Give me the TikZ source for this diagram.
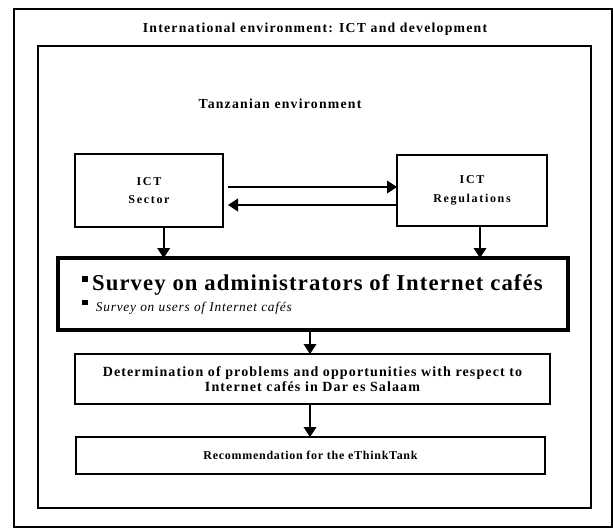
\documentclass[tikz,border=0pt]{standalone}
\usepackage{fontspec}
\setmainfont{Liberation Serif}
\usetikzlibrary{arrows.meta,calc}

\tikzset{
  box/.style={draw, line width=1.1pt, inner sep=0pt, outer sep=0pt, align=center},
  flow/.style={-{Triangle[width=9.5pt,length=7.5pt]}, line width=1.3pt},
  heading/.style={font=\bfseries\fontsize{10.3}{12}\selectfont\addfontfeature{LetterSpace=9}},
  actor/.style={font=\bfseries\fontsize{9}{14}\selectfont\addfontfeature{LetterSpace=14}}
}
\newcommand{\sqbul}[2]{\raisebox{#2}{\rule{#1}{#1}}}

\begin{document}
\begin{tikzpicture}[x=0.75pt,y=-0.75pt]
  \useasboundingbox (0,0) rectangle (613,528);
  % environments
  \node[box, minimum width=448.5pt, minimum height=388.5pt] (world) at (313,268) {};
  \node[heading] (intl) at (315,29) {International environment: ICT and development};
  \node[box, minimum width=414.75pt, minimum height=346.5pt] (tz) at (314.5,277) {};
  \node[heading] (tzname) at (280,104) {Tanzanian environment};
  % actors
  \node[box, actor, minimum width=111pt, minimum height=54.75pt] (sector) at (149,190.5) {ICT\\Sector};
  \node[box, actor, minimum width=112.5pt, minimum height=53.25pt] (regul) at (472,190.5) {ICT\\Regulations};
  \draw[flow] ($(sector.east)+(5,-3.5)$) -- ($(regul.west)+(0,-3.5)$);
  \draw[flow] ($(regul.west)+(0,14.5)$) -- ($(sector.east)+(5,14.5)$);
  % surveys
  \node[box, line width=2.6pt, minimum width=382.5pt, minimum height=54pt] (survey) at (313,294) {};
  \node[anchor=base west, inner sep=0pt, font=\bfseries\fontsize{17}{19}\selectfont\addfontfeature{LetterSpace=5}] (admin) at (82,290)
    {\sqbul{4.5pt}{6pt}\,Survey on administrators of Internet cafés};
  \node[anchor=base west, inner sep=0pt, font=\itshape\fontsize{10}{11}\selectfont\addfontfeature{LetterSpace=6}] (users) at (82,311)
    {\sqbul{4pt}{4.5pt}\ \ Survey on users of Internet cafés};
  \draw[flow] ([xshift=11pt]sector.south) -- ([xshift=11pt]sector.south |- survey.north);
  \draw[flow] ([xshift=6pt]regul.south) -- ([xshift=6pt]regul.south |- survey.north);
  % results
  \node[box, minimum width=356.25pt, minimum height=37.5pt, font=\bfseries\fontsize{10.5}{11.5}\selectfont\addfontfeature{LetterSpace=8}] (determ) at (312.5,379)
    {Determination of problems and opportunities with respect to\\Internet cafés in Dar es Salaam};
  \node[box, minimum width=351.75pt, minimum height=27.75pt, font=\bfseries\fontsize{9}{10}\selectfont\addfontfeature{LetterSpace=6}] (recomm) at (310.5,455.5)
    {Recommendation for the eThinkTank};
  \draw[flow] ([xshift=-2.25pt]survey.south) -- ([xshift=-2.25pt]survey.south |- determ.north);
  \draw[flow] ([xshift=-2.25pt]survey.south |- determ.south) -- ([xshift=-2.25pt]survey.south |- recomm.north);
\end{tikzpicture}
\end{document}
